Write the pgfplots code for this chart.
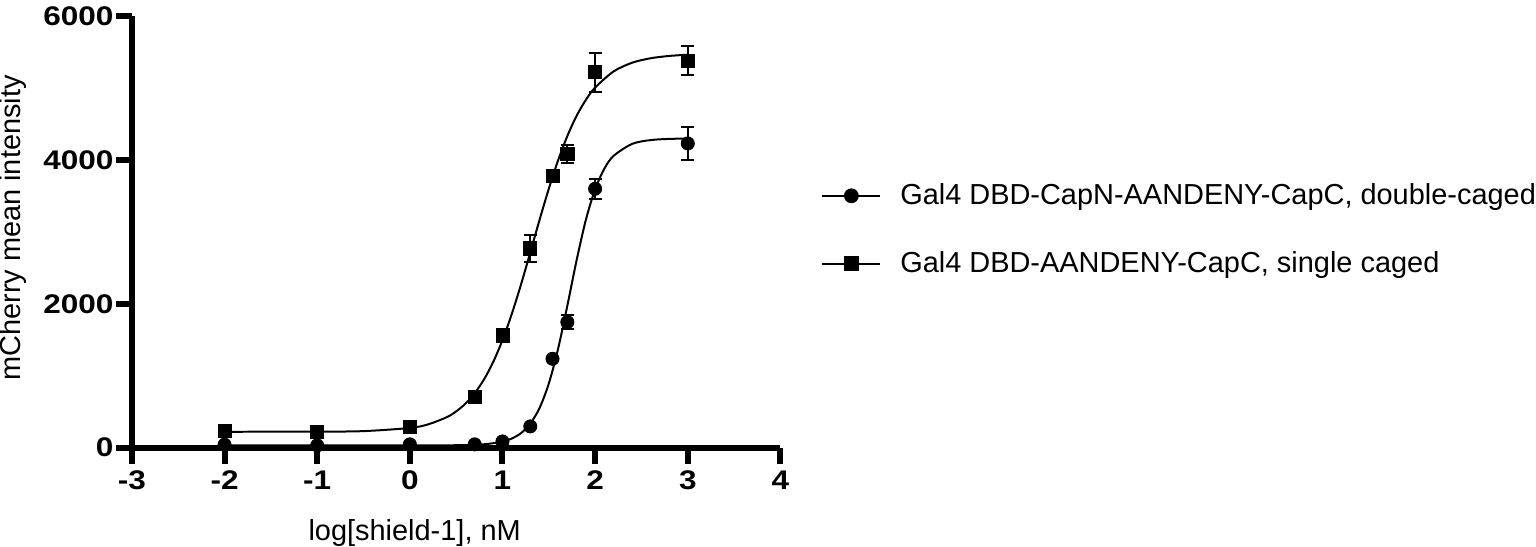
\documentclass[border=0pt]{standalone}
\usepackage{pgfplots}
\pgfplotsset{compat=1.18}
\usepackage{fontspec}
\setmainfont{Liberation Sans}

% measured points (mean +- error)
\pgfplotstableread{
x     y     e
-2    230   0
-1    215   0
0     290   0
0.70  700   0
1.00  1560  0
1.30  2770  190
1.54  3780  70
1.70  4080  125
2.00  5220  270
3.00  5380  205
}\single
\pgfplotstableread{
x     y     e
-2    40    0
-1    30    0
0     45    0
0.70  45    0
1.00  85    0
1.30  295   0
1.54  1235  0
1.70  1745  100
2.00  3600  140
3.00  4230  225
}\double

\begin{document}
\begin{tikzpicture}
\begin{axis}[
  scale only axis,
  width=325pt, height=216.2pt,
  xmin=-3, xmax=4, ymin=0, ymax=6000,
  xtick={-3,...,4}, ytick={0,2000,4000,6000},
  axis lines=left,
  axis line style={-, line width=3pt},
  tick style={line width=3pt, black},
  major tick length=8pt,
  tick align=outside,
  clip=false,
  /pgf/number format/1000 sep={},
  /pgf/number format/assume math mode=true,
  tick label style={font=\fontsize{13.5}{15}\selectfont\bfseries, xscale=1.17},
  yticklabel style={xshift=2.5pt},
  label style={font=\fontsize{14.5}{16}\selectfont, inner sep=0pt},
  xlabel={log[shield-1], nM},
  ylabel={mCherry mean intensity},
  xlabel style={at={(axis description cs:0.436,-0.1666)}, anchor=north},
  ylabel style={at={(axis description cs:-0.1826,0.509)}, anchor=center},
  legend style={at={(axis description cs:1.0626,0.505)}, anchor=west,
    draw=none, inner sep=0pt, font=\fontsize{14.5}{16}\selectfont,
    row sep=22pt, nodes={inner sep=0pt},
    /tikz/every odd column/.append style={column sep=9.5pt}},
  legend cell align=left,
  legend image code/.code={
    \draw[#1, mark repeat=2, mark phase=2]
      plot coordinates {(0pt,0pt) (14.5pt,0pt) (29pt,0pt)};},
]
% fitted curves
\addplot[black, line width=1pt, smooth, forget plot] coordinates {
(-2,220) (-1,222) (-0.5,229) (0,273) (0.2,324) (0.4,424) (0.5,503)
(0.6,611) (0.7,756) (0.8,947) (0.9,1191) (1.0,1495) (1.1,1857)
(1.2,2269) (1.3,2714) (1.4,3167) (1.5,3600) (1.6,3994) (1.7,4333)
(1.8,4614) (1.9,4836) (2.0,5007) (2.2,5232) (2.4,5353) (2.6,5415)
(2.8,5447) (3.0,5464)};
\addplot[black, line width=1pt, smooth, forget plot] coordinates {
(-2,30) (0,30) (0.5,33) (0.8,46) (1.0,83) (1.1,126) (1.2,201)
(1.3,333) (1.4,550) (1.5,891) (1.6,1373) (1.7,1973) (1.8,2605)
(1.9,3167) (2.0,3592) (2.1,3880) (2.2,4058) (2.4,4224) (2.6,4277)
(2.8,4293) (3.0,4298)};
% points with error bars
\addplot[black, only marks, mark=square*, mark size=3.3pt, forget plot,
  error bars/.cd, y dir=both, y explicit,
  error bar style={line width=1pt},
  error mark options={rotate=90, mark size=3.3pt, line width=1pt}]
  table[x=x, y=y, y error=e] {\single};
\addplot[black, only marks, mark=*, mark size=3.3pt, forget plot,
  error bars/.cd, y dir=both, y explicit,
  error bar style={line width=1pt},
  error mark options={rotate=90, mark size=3.3pt, line width=1pt}]
  table[x=x, y=y, y error=e] {\double};
\addlegendimage{black, line width=1pt, mark=*, mark size=3.2pt}
\addlegendentry{Gal4 DBD-CapN-AANDENY-CapC, double-caged}
\addlegendimage{black, line width=1pt, mark=square*, mark size=3.2pt}
\addlegendentry{Gal4 DBD-AANDENY-CapC, single caged}
\end{axis}
\end{tikzpicture}
\end{document}
